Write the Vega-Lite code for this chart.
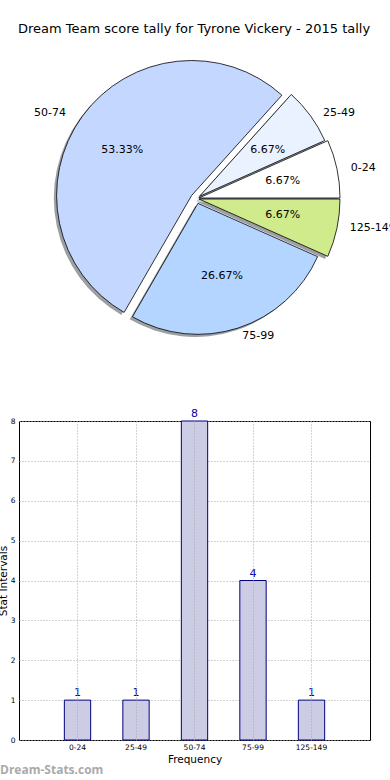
{
  "$schema": "https://vega.github.io/schema/vega-lite/v6.json",
  "autosize": "none",
  "padding": {"left": 19, "top": 55, "right": 371, "bottom": 725},
  "bounds": "flush",
  "spacing": 79,
  "background": "#ffffff",
  "title": {"text": "Dream Team score tally for Tyrone Vickery - 2015 tally", "font": "DejaVu Sans", "fontSize": 13, "fontWeight": "normal", "color": "#000000", "anchor": "start", "frame": "group", "offset": 19, "dx": -1},
  "config": {"view": {"stroke": null}, "font": "DejaVu Sans", "text": {"font": "DejaVu Sans"}},
  "data": {"values": [
    {"label": "0-24", "lo": 0, "count": 1, "pct": 0.066667},
    {"label": "25-49", "lo": 25, "count": 1, "pct": 0.066667},
    {"label": "50-74", "lo": 50, "count": 8, "pct": 0.533333},
    {"label": "75-99", "lo": 75, "count": 4, "pct": 0.266667},
    {"label": "125-149", "lo": 125, "count": 1, "pct": 0.066667}
  ]},
  "vconcat": [
    {
      "width": 354.4,
      "height": 287,
      "transform": [
        {"stack": "count", "groupby": [], "sort": [{"field": "lo", "order": "ascending"}], "as": ["t0", "t1"]}
      ],
      "layer": [
        {
          "mark": {"type": "arc", "fill": "#9c9fa4", "stroke": null},
          "encoding": {
            "theta": {"field": "t0", "type": "quantitative", "stack": null, "scale": {"domain": [0, 15], "range": [1.5707963, -4.712389]}},
            "theta2": {"field": "t1"},
            "radius": {"field": "lo", "type": "quantitative", "scale": {"type": "linear", "domain": [0, 25, 50, 75, 125], "range": [141, 137, 135, 131, 141], "zero": false, "nice": false}},
            "radius2": {"value": 0},
            "xOffset": {"field": "lo", "type": "quantitative", "scale": {"domain": [0, 25, 50, 75, 125], "range": [0, 0.6, -7.4, -1.05, 0], "zero": false, "nice": false}},
            "yOffset": {"field": "lo", "type": "quantitative", "scale": {"domain": [0, 25, 50, 75, 125], "range": [2.05, 0.3, -0.45, 7.4, 3.05], "zero": false, "nice": false}}
          }
        },
        {
          "mark": {"type": "arc", "stroke": "#000000", "strokeWidth": 0.8},
          "encoding": {
            "theta": {"field": "t0", "type": "quantitative", "stack": null, "scale": {"domain": [0, 15], "range": [1.5707963, -4.712389]}},
            "theta2": {"field": "t1"},
            "color": {"field": "label", "type": "nominal", "scale": {"domain": ["0-24", "25-49", "50-74", "75-99", "125-149"], "range": ["#ffffff", "#eaf2ff", "#c4d8ff", "#b4d5ff", "#cfeb8c"]}, "legend": null},
            "radius": {"field": "lo", "type": "quantitative", "scale": {"type": "linear", "domain": [0, 25, 50, 75, 125], "range": [141, 137, 135, 131, 141], "zero": false, "nice": false}},
            "radius2": {"value": 0},
            "xOffset": {"field": "lo", "type": "quantitative", "scale": {"domain": [0, 25, 50, 75, 125], "range": [2.8, 3.4, -4.6, 1.75, 2.8], "zero": false, "nice": false}},
            "yOffset": {"field": "lo", "type": "quantitative", "scale": {"domain": [0, 25, 50, 75, 125], "range": [-0.5, -2.25, -3.0, 4.85, 0.5], "zero": false, "nice": false}}
          }
        },
        {
          "transform": [
            {"fold": ["t0", "t1"], "as": ["edge", "edgeValue"]},
            {"aggregate": [{"op": "mean", "field": "edgeValue", "as": "mid"}], "groupby": ["label", "lo", "pct"]}
          ],
          "encoding": {
            "theta": {"field": "mid", "type": "quantitative", "stack": null, "scale": {"domain": [0, 15], "range": [1.5707963, -4.712389]}}
          },
          "layer": [
            {
              "mark": {"type": "text", "align": "left", "baseline": "middle", "fontSize": 11, "color": "#000000", "radius": 156},
              "encoding": {
                "text": {"condition": {"test": "datum.lo !== 50", "field": "label", "type": "nominal"}, "value": ""},
                "xOffset": {"field": "lo", "type": "quantitative", "scale": {"domain": [0, 25, 50, 75, 125], "range": [1.9, 0.6, -4, -2.1, 0.9], "zero": false, "nice": false}},
                "yOffset": {"field": "lo", "type": "quantitative", "scale": {"domain": [0, 25, 50, 75, 125], "range": [2.2, 5.9, 6.5, -10.9, -2.6], "zero": false, "nice": false}}
              }
            },
            {
              "mark": {"type": "text", "align": "right", "baseline": "middle", "fontSize": 11, "color": "#000000", "radius": 156},
              "encoding": {
                "text": {"condition": {"test": "datum.lo === 50", "field": "label", "type": "nominal"}, "value": ""},
                "xOffset": {"field": "lo", "type": "quantitative", "scale": {"domain": [0, 25, 50, 75, 125], "range": [1.9, 0.6, -4, -2.1, 0.9], "zero": false, "nice": false}},
                "yOffset": {"field": "lo", "type": "quantitative", "scale": {"domain": [0, 25, 50, 75, 125], "range": [2.2, 5.9, 6.5, -10.9, -2.6], "zero": false, "nice": false}}
              }
            },
            {
              "mark": {"type": "text", "align": "center", "baseline": "middle", "fontSize": 11, "color": "#000000", "radius": 85},
              "encoding": {
                "text": {"field": "pct", "type": "quantitative", "format": ".2%"},
                "xOffset": {"field": "lo", "type": "quantitative", "scale": {"domain": [0, 25, 50, 75, 125], "range": [3.4, 2.7, -5.1, -0.5, 3.4], "zero": false, "nice": false}},
                "yOffset": {"field": "lo", "type": "quantitative", "scale": {"domain": [0, 25, 50, 75, 125], "range": [0.2, 1.5, 1.5, -3.3, -1.2], "zero": false, "nice": false}}
              }
            }
          ],
          "resolve": {"scale": {"xOffset": "independent", "yOffset": "independent"}}
        }
      ],
      "resolve": {"scale": {"xOffset": "independent", "yOffset": "independent"}}
    },
    {
      "width": 351,
      "height": 319,
      "view": {"stroke": "#000000", "strokeWidth": 1},
      "title": {"text": "Dream-Stats.com", "orient": "bottom", "anchor": "start", "frame": "group", "font": "Open Sans", "fontSize": 12, "fontWeight": "bold", "color": "#aaaaaa", "dx": -19, "offset": 0},
      "encoding": {
        "x": {"field": "label", "type": "nominal", "sort": {"field": "lo", "op": "min"},
          "scale": {"paddingInner": 0.55, "paddingOuter": 0.775},
          "axis": {"title": "Frequency", "titleFont": "DejaVu Sans", "titleFontSize": 10.5, "titleFontWeight": "normal", "titleColor": "#000000", "titlePadding": 4,
            "labelAngle": 0, "labelFont": "DejaVu Sans", "labelFontSize": 7.5, "labelColor": "#000000", "labelPadding": 3,
            "ticks": false, "domain": false, "grid": true, "gridColor": "#a8a8a8", "gridDash": [1, 2], "bandPosition": 0.5, "zindex": 1}},
        "y": {"field": "count", "type": "quantitative", "scale": {"domain": [0, 8], "nice": false},
          "axis": {"title": "Stat Intervals", "values": [0, 1, 2, 3, 4, 5, 6, 7, 8], "labelFont": "DejaVu Sans", "labelFontSize": 7.5, "labelColor": "#000000", "labelPadding": 4,
            "ticks": false, "domain": false, "grid": true, "gridColor": "#a8a8a8", "gridDash": [1, 2],
            "titleFont": "DejaVu Sans", "titleFontSize": 10.5, "titleFontWeight": "normal", "titleColor": "#000000",
            "titleX": -16, "titleY": 159.5, "titleAngle": -90, "titleAlign": "center", "titleBaseline": "middle"}}
      },
      "layer": [
        {"mark": {"type": "bar", "fill": "#ccccE5", "stroke": "#000080", "strokeWidth": 1}},
        {"mark": {"type": "text", "baseline": "alphabetic", "dy": -4, "color": "#0000aa", "fontSize": 11},
          "encoding": {"text": {"field": "count", "type": "quantitative"}}}
      ]
    }
  ]
}
